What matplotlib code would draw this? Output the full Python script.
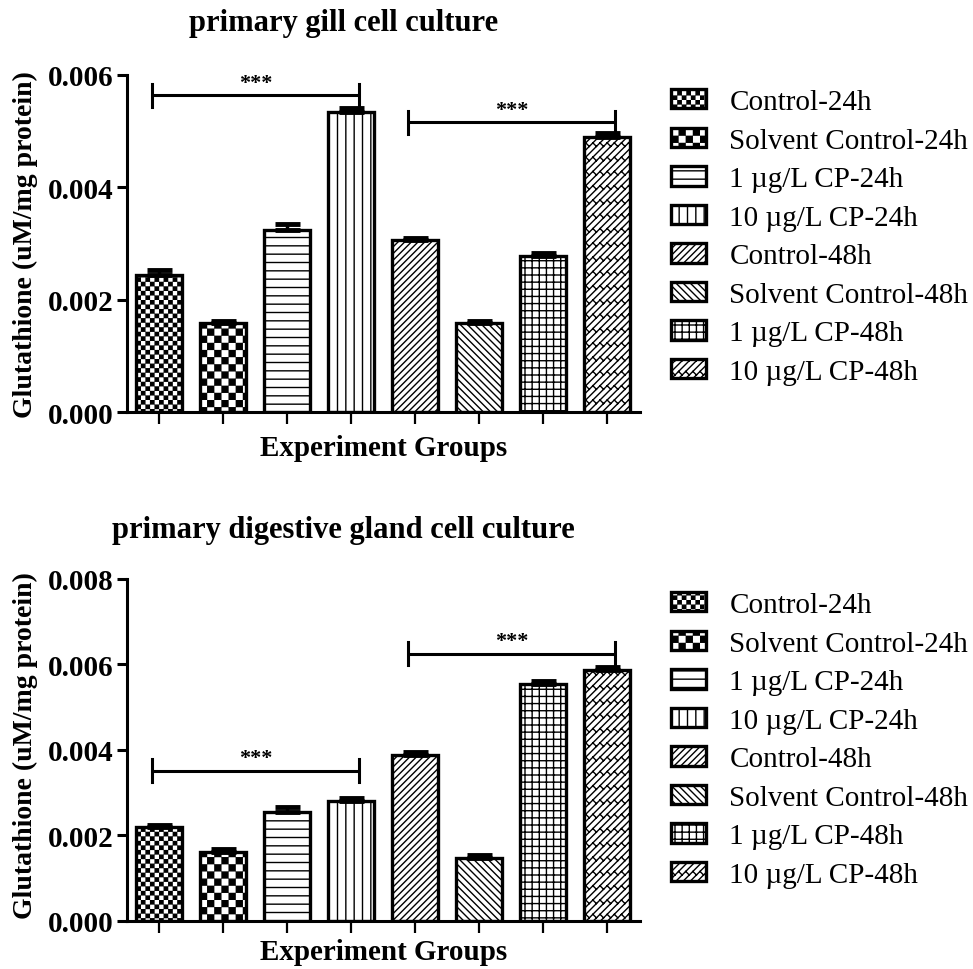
import numpy as np
import matplotlib
matplotlib.use('Agg')
import matplotlib.pyplot as plt
import matplotlib.hatch as mhatch
from matplotlib.path import Path
from matplotlib.patches import Patch

# ---------------- data ----------------
groups = ['Control-24h', 'Solvent Control-24h', '1 µg/L CP-24h', '10 µg/L CP-24h',
          'Control-48h', 'Solvent Control-48h', '1 µg/L CP-48h', '10 µg/L CP-48h']

gill_mean = [0.00245, 0.00159, 0.00325, 0.00535, 0.00307, 0.00159, 0.00278, 0.00490]
gill_sem = [0.00008, 0.00004, 0.00010, 0.00007, 0.00003, 0.00003, 0.00006, 0.00007]

dg_mean = [0.00220, 0.00162, 0.00255, 0.00280, 0.00389, 0.00146, 0.00554, 0.00586]
dg_sem = [0.00004, 0.00007, 0.00012, 0.00007, 0.00006, 0.00007, 0.00007, 0.00007]

# significance brackets: (first group, last group, bracket level)
gill_sig = [(0, 3, 0.00564), (4, 7, 0.00516)]
dg_sig = [(0, 3, 0.00351), (4, 7, 0.00625)]
sig_label = '***'

gill_yticks = [0.000, 0.002, 0.004, 0.006]
dg_yticks = [0.000, 0.002, 0.004, 0.006, 0.008]

title_gill = 'primary gill cell culture'
title_dg = 'primary digestive gland cell culture'
xlab = 'Experiment Groups'
ylab = 'Glutathione (uM/mg protein)'

# ---------------- custom hatch patterns ----------------
def _seg_path(segs):
    verts, codes = [], []
    for a, b in segs:
        verts += [a, b]
        codes += [Path.MOVETO, Path.LINETO]
    return Path(np.array(verts, float), np.array(codes, dtype=Path.code_type))

def _checker(n, shrink=0.006):
    verts, codes = [], []
    for i in range(n):
        for j in range(n):
            if (i + j) % 2 == 0:
                x0, y0 = i / n + shrink, j / n + shrink
                x1, y1 = (i + 1) / n - shrink, (j + 1) / n - shrink
                verts += [(x0, y0), (x1, y0), (x1, y1), (x0, y1), (x0, y0)]
                codes += [Path.MOVETO, Path.LINETO, Path.LINETO, Path.LINETO, Path.CLOSEPOLY]
    return Path(np.array(verts, float), np.array(codes, dtype=Path.code_type))

def _hl(n):
    return [((-0.1, (k + 0.5) / n), (1.1, (k + 0.5) / n)) for k in range(n)]

def _vl(n):
    return [(((k + 0.5) / n, -0.1), ((k + 0.5) / n, 1.1)) for k in range(n)]

def _ne(n):
    return [((-0.5, -0.5 + k / n), (1.5, 1.5 + k / n)) for k in range(-n, n + 1)]

def _se(n):
    return [((-0.5, k / n + 0.5), (1.5, k / n - 1.5)) for k in range(0, 2 * n + 1)]

def _brick(n, m):
    segs = _ne(n)
    L = 1.0 / m
    for k in range(-n, n + 1):
        off = 0.5 * L if k % 2 else 0.0
        for t in np.arange(-1.0, 1.5, L) + off:
            segs.append(((t, t + k / n), (t + 0.5 / n, t + k / n - 0.5 / n)))
    return segs

CUSTOM_HATCH = {
    '.o': _checker(22),
    '.O': _checker(14),
    '.-': _seg_path(_hl(12)),
    '.|': _seg_path(_vl(12)),
    './': _seg_path(_ne(15)),
    '.\\': _seg_path(_se(14)),
    '.+': _seg_path(_hl(14) + _vl(14)),
    '.x': _seg_path(_brick(14, 7)),
}
_orig_get_path = mhatch.get_path

def _get_path(hatchpattern, density=6):
    p = CUSTOM_HATCH.get(hatchpattern)
    return p if p is not None else _orig_get_path(hatchpattern, density)

mhatch.get_path = _get_path

hatches = ['.o', '.O', '.-', '.|', './', '.\\', '.+', '.x']

# ---------------- figure ----------------
plt.rcParams['font.family'] = ['Liberation Serif', 'DejaVu Serif']
plt.rcParams['hatch.linewidth'] = 1.0
plt.rcParams['hatch.color'] = 'black'

W, H, DPI = 973, 970, 100
fig = plt.figure(figsize=(W / DPI, H / DPI), dpi=DPI)

def px_axes(left, top, right, bottom):
    return fig.add_axes([left / W, 1 - bottom / H, (right - left) / W, (bottom - top) / H])

ax1 = px_axes(126.7, 76, 640, 413.3)
ax2 = px_axes(126.7, 580, 640, 921.7)

def draw_panel(ax, mean, sem, sig, yticks, title, title_y, xlab_y, ylab_y, legend_top):
    x = np.arange(len(groups))
    ax.bar(x, mean, width=0.72, color='white', edgecolor='black', linewidth=2.4,
           hatch=hatches, zorder=2)
    ax.errorbar(x, mean, yerr=[np.zeros(len(mean)), sem], fmt='none', ecolor='black',
                elinewidth=2.5, capsize=9, capthick=3.5, zorder=3)
    ax.set_xlim(-0.51, 7.51)
    ax.set_ylim(yticks[0], yticks[-1])
    ax.set_xticks(x)
    ax.set_xticklabels([])
    ax.set_yticks(yticks)
    ax.set_yticklabels([f'{t:.3f}' for t in yticks], fontweight='bold', fontsize=21)
    ax.tick_params(axis='x', length=8.5, width=1.6, direction='out')
    ax.tick_params(axis='y', length=7, width=2.2, direction='out', pad=2.5)
    for s in ('top', 'right'):
        ax.spines[s].set_visible(False)
    for s in ('left', 'bottom'):
        ax.spines[s].set_linewidth(2.2)
    ax.patch.set_alpha(0)

    # brackets
    axh_px = ax.get_position().height * H
    half = (yticks[-1] - yticks[0]) * 11.5 / axh_px
    for i, j, yb in sig:
        x0, x1 = i - 0.11, j + 0.12
        ax.plot([x0, x1], [yb, yb], color='black', lw=2.2, solid_capstyle='butt', zorder=4)
        ax.plot([x0, x0], [yb - half, yb + half], color='black', lw=2.2, zorder=4)
        ax.plot([x1, x1], [yb - half, yb + half], color='black', lw=2.2, zorder=4)
        ax.annotate(sig_label, xy=((x0 + x1) / 2, yb), xytext=(0, 5.5),
                    textcoords='offset points', ha='center', va='baseline',
                    fontsize=16, fontweight='bold')

    fig.text(343.5 / W, 1 - title_y / H, title, ha='center', va='baseline',
             fontsize=22, fontweight='bold')
    fig.text(383.3 / W, 1 - xlab_y / H, xlab, ha='center', va='baseline',
             fontsize=21, fontweight='bold')
    fig.text(25 / W, 1 - ylab_y / H, ylab, ha='center', va='center', rotation=90,
             fontsize=20, fontweight='bold')

    handles = [Patch(facecolor='white', edgecolor='black', hatch=h, linewidth=2.4)
               for h in hatches]
    fig.legend(handles, groups, loc='upper left', bbox_to_anchor=(671 / W, 1 - legend_top / H),
               frameon=False, fontsize=21, handlelength=1.2, handleheight=0.65,
               handletextpad=0.8, labelspacing=0.43, borderpad=0, borderaxespad=0)

draw_panel(ax1, gill_mean, gill_sem, gill_sig, gill_yticks, title_gill, 31.5, 456, 245, 90)
draw_panel(ax2, dg_mean, dg_sem, dg_sig, dg_yticks, title_dg, 538, 960, 746, 593)

fig.savefig('out.png', dpi=DPI)
